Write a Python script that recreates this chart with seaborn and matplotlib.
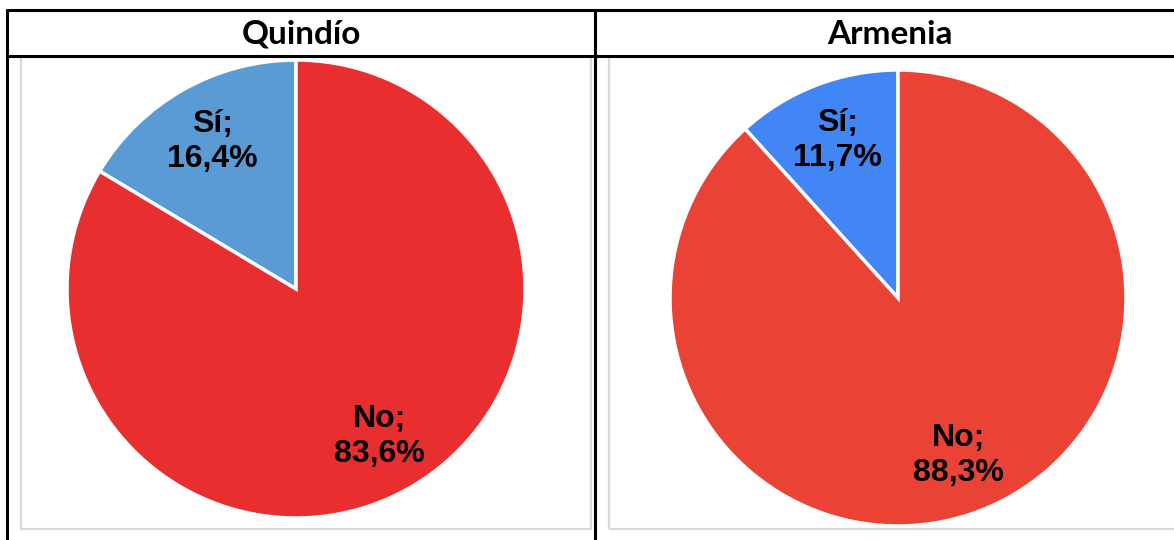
import matplotlib.pyplot as plt
import seaborn as sns
from matplotlib.patches import Rectangle
from matplotlib.lines import Line2D

# --- Datos ---
regiones = ['Quindío', 'Armenia']
categorias = ['Sí', 'No']
valores_quindio = [16.4, 83.6]
valores_armenia = [11.7, 88.3]
colores_quindio = ['#5B9BD5', '#E92E30']
colores_armenia = ['#4285F4', '#EA4335']

W, H = 1174, 540

sns.set_theme(style="white")
plt.rcParams['font.family'] = ['Liberation Sans', 'DejaVu Sans']
plt.rcParams['text.color'] = 'black'

fig = plt.figure(figsize=(W / 100, H / 100), dpi=100)
fig.patch.set_facecolor('white')


def fx(px):
    return px / W


def fy(py):
    return 1 - py / H


# --- Tabla (bordes negros) ---
lw = 2.2
for (x0, y0, x1, y1) in [(7, 10, W + 5, 10), (7, 56, W + 5, 56),
                         (7, 10, 7, H + 5), (595, 10, 595, H + 5)]:
    fig.add_artist(Line2D([fx(x0), fx(x1)], [fy(y0), fy(y1)], color='black',
                          lw=lw, transform=fig.transFigure))

# --- Cajas grises de los gráficos ---
for (x0, y0, x1, y1) in [(21, 57, 591, 529), (609, 57, W + 20, 529)]:
    fig.add_artist(Rectangle((fx(x0), fy(y1)), fx(x1 - x0), (y1 - y0) / H,
                             fill=False, edgecolor='#D9D9D9', lw=1.6,
                             transform=fig.transFigure))

# --- Títulos ---
for nombre, cx in zip(regiones, [301, 890]):
    fig.text(fx(cx), fy(34), nombre, ha='center', va='center', fontsize=24,
             fontweight='bold', color='black', family=['Lato', 'DejaVu Sans'])

# --- Pasteles ---
pies = [
    (valores_quindio, colores_quindio, (296, 289), 229),
    (valores_armenia, colores_armenia, (898, 298), 228),
]
for valores, colores, (cx, cy), r in pies:
    ax = fig.add_axes([fx(cx - r), fy(cy + r), 2 * r / W, 2 * r / H])
    etiquetas = [f"{c};\n{str(v).replace('.', ',')}%" for c, v in zip(categorias, valores)]
    wedges, textos = ax.pie(valores, colors=colores, startangle=90, counterclock=True,
                            labels=etiquetas, labeldistance=0.74,
                            wedgeprops=dict(edgecolor='white', linewidth=2.5))
    for t in textos:
        t.set_ha('center')
        t.set_va('center')
        t.set_fontsize(23)
        t.set_fontweight('bold')
        t.set_color('black')
        t.set_linespacing(1.25)
    ax.set_xlim(-1, 1)
    ax.set_ylim(-1, 1)
    ax.axis('off')

fig.savefig('out.png', dpi=100, facecolor='white')
